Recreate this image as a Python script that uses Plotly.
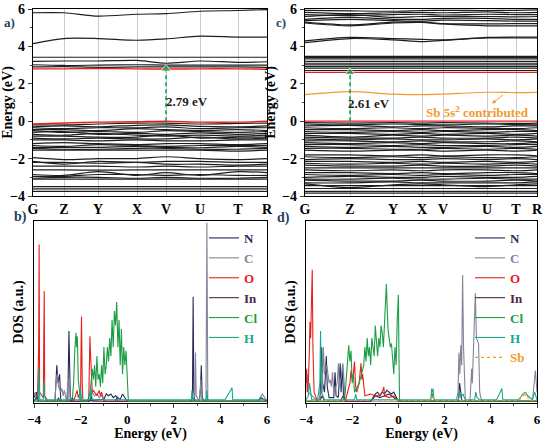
import plotly.graph_objects as go

W, H = 548, 442
FONT = "Liberation Serif, Times New Roman, serif"

# ---------------- band structure (a) ----------------
klabels_a = ["G", "Z", "Y", "X", "V", "U", "T", "R"]
kpath_a = [0, 0.31, 0.65, 1.04, 1.33, 1.67, 2.05, 2.34]
cond_a = [
    [5.8, 5.8, 5.62, 5.72, 5.75, 5.88, 5.92, 5.97],
    [4.15, 4.42, 4.42, 4.33, 4.4, 4.55, 4.5, 4.5],
    [3.42, 3.42, 3.42, 3.42, 3.42, 3.42, 3.42, 3.42],
    [3.2, 3.22, 3.22, 3.25, 3.1, 3.22, 3.15, 3.18],
    [3.02, 2.98, 3.0, 3.02, 3.0, 3.0, 3.0, 3.0],
    [2.9, 2.92, 2.88, 2.9, 2.9, 2.9, 2.9, 2.88],
]
cbm_a = [2.8, 2.8, 2.82, 2.8, 2.79, 2.8, 2.8, 2.78]
vbm_a = [-0.15, -0.1, -0.05, -0.03, 0.0, -0.05, -0.05, 0.0]
val_a = [
    [-0.2, -0.2, -0.15, -0.1, -0.1, -0.15, -0.12, -0.1],
    [-0.3, -0.25, -0.3, -0.22, -0.2, -0.28, -0.3, -0.25],
    [-0.35, -0.4, -0.35, -0.35, -0.3, -0.4, -0.35, -0.35],
    [-0.45, -0.45, -0.5, -0.4, -0.45, -0.5, -0.45, -0.5],
    [-0.5, -0.6, -0.55, -0.6, -0.5, -0.55, -0.6, -0.55],
    [-0.6, -0.55, -0.7, -0.65, -0.7, -0.62, -0.7, -0.65],
    [-0.7, -0.75, -0.65, -0.75, -0.8, -0.75, -0.8, -0.75],
    [-0.8, -0.8, -0.85, -0.85, -0.75, -0.9, -0.85, -0.85],
    [-0.9, -0.95, -0.9, -0.95, -0.95, -0.85, -0.95, -0.9],
    [-1.0, -1.0, -1.05, -1.0, -1.05, -1.05, -1.0, -1.0],
    [-1.2, -1.15, -1.2, -1.25, -1.2, -1.2, -1.25, -1.2],
    [-1.3, -1.35, -1.25, -1.3, -1.35, -1.3, -1.3, -1.3],
    [-1.4, -1.4, -1.4, -1.35, -1.4, -1.42, -1.35, -1.4],
    [-1.45, -1.5, -1.5, -1.45, -1.45, -1.5, -1.5, -1.45],
    [-1.55, -1.55, -1.55, -1.55, -1.55, -1.55, -1.6, -1.55],
    [-1.95, -2.05, -2.0, -2.0, -1.9, -2.0, -2.05, -2.0],
    [-2.15, -2.3, -2.15, -2.2, -2.15, -2.15, -2.2, -2.2],
    [-2.2, -2.2, -2.25, -2.2, -2.3, -2.3, -2.35, -2.3],
    [-2.4, -2.4, -2.4, -2.45, -2.4, -2.45, -2.4, -2.4],
    [-2.6, -2.6, -2.62, -2.6, -2.6, -2.6, -2.6, -2.6],
    [-2.85, -2.9, -2.7, -2.9, -2.75, -2.9, -2.7, -2.75],
    [-2.95, -2.95, -2.85, -2.85, -2.9, -2.85, -2.9, -2.9],
    [-3.05, -3.0, -3.0, -3.05, -3.0, -3.05, -3.05, -3.0],
    [-3.1, -3.1, -3.1, -3.1, -3.1, -3.1, -3.1, -3.1],
    [-3.5, -3.5, -3.5, -3.5, -3.5, -3.5, -3.5, -3.5],
    [-3.62, -3.62, -3.62, -3.62, -3.62, -3.62, -3.62, -3.62],
    [-3.75, -3.75, -3.75, -3.75, -3.75, -3.75, -3.75, -3.75],
]
gap_a = [0.0, 2.79]

# ---------------- band structure (c) ----------------
klabels_c = ["G", "Z", "Y", "X", "V", "U", "T", "R"]
kpath_c = [0, 0.45, 0.88, 1.17, 1.38, 1.82, 2.11, 2.32]
cond_c = [
    [5.93, 5.9, 5.88, 5.92, 5.93, 5.92, 5.93, 5.95],
    [5.82, 5.75, 5.8, 5.82, 5.8, 5.85, 5.8, 5.82],
    [5.7, 5.65, 5.7, 5.72, 5.68, 5.72, 5.7, 5.7],
    [5.6, 5.7, 5.55, 5.6, 5.6, 5.6, 5.58, 5.6],
    [5.45, 5.55, 5.45, 5.45, 5.5, 5.5, 5.45, 5.45],
    [5.38, 5.45, 5.38, 5.35, 5.4, 5.38, 5.35, 5.35],
    [5.3, 5.15, 5.3, 5.3, 5.22, 5.2, 5.22, 5.22],
    [5.25, 5.1, 5.25, 5.28, 5.2, 5.1, 5.1, 5.1],
    [4.3, 4.48, 4.42, 4.38, 4.35, 4.48, 4.5, 4.5],
    [4.2, 4.42, 4.35, 4.25, 4.32, 4.45, 4.45, 4.45],
    [3.47, 3.47, 3.47, 3.47, 3.47, 3.47, 3.47, 3.47],
    [3.41, 3.41, 3.41, 3.41, 3.41, 3.41, 3.41, 3.41],
    [3.33, 3.33, 3.33, 3.33, 3.33, 3.33, 3.33, 3.33],
    [3.2, 3.2, 3.2, 3.2, 3.2, 3.2, 3.2, 3.2],
    [3.1, 3.1, 3.1, 3.1, 3.1, 3.1, 3.1, 3.1],
    [3.02, 3.02, 3.02, 3.02, 3.02, 3.02, 3.02, 3.02],
    [2.93, 2.93, 2.93, 2.93, 2.93, 2.93, 2.93, 2.93],
    [2.84, 2.84, 2.84, 2.84, 2.84, 2.84, 2.84, 2.84],
    [2.71, 2.71, 2.71, 2.71, 2.71, 2.71, 2.71, 2.71],
]
cbm_c = [2.61, 2.61, 2.61, 2.61, 2.61, 2.61, 2.61, 2.61]
vbm_c = [0.0, 0.0, 0.0, 0.0, 0.0, 0.0, 0.0, 0.0]
sb_band_c = [1.42, 1.58, 1.45, 1.42, 1.45, 1.55, 1.53, 1.54]
val_c = [
    [-0.08, -0.1, -0.08, -0.1, -0.08, -0.1, -0.12, -0.1],
    [-0.15, -0.2, -0.15, -0.18, -0.2, -0.15, -0.18, -0.2],
    [-0.25, -0.22, -0.3, -0.25, -0.25, -0.3, -0.25, -0.25],
    [-0.35, -0.4, -0.35, -0.4, -0.35, -0.38, -0.4, -0.35],
    [-0.45, -0.45, -0.5, -0.45, -0.5, -0.45, -0.45, -0.5],
    [-0.55, -0.6, -0.55, -0.6, -0.55, -0.6, -0.55, -0.55],
    [-0.65, -0.65, -0.7, -0.65, -0.7, -0.65, -0.7, -0.65],
    [-0.75, -0.85, -0.75, -0.8, -0.75, -0.8, -0.75, -0.8],
    [-0.85, -0.9, -0.9, -0.85, -0.9, -0.9, -0.85, -0.9],
    [-0.95, -1.0, -0.95, -1.0, -1.0, -0.95, -1.0, -0.95],
    [-1.05, -1.05, -1.1, -1.05, -1.1, -1.1, -1.05, -1.1],
    [-1.15, -1.2, -1.15, -1.2, -1.15, -1.2, -1.2, -1.15],
    [-1.25, -1.25, -1.3, -1.25, -1.3, -1.3, -1.25, -1.25],
    [-1.35, -1.4, -1.35, -1.4, -1.4, -1.35, -1.4, -1.35],
    [-1.45, -1.45, -1.5, -1.5, -1.45, -1.5, -1.45, -1.5],
    [-1.55, -1.6, -1.55, -1.55, -1.6, -1.55, -1.6, -1.55],
    [-1.8, -1.8, -1.85, -1.8, -1.85, -1.8, -1.8, -1.85],
    [-1.9, -1.95, -1.9, -1.95, -1.9, -1.95, -1.95, -1.9],
    [-2.05, -2.0, -2.05, -2.05, -2.0, -2.05, -2.0, -2.05],
    [-2.15, -2.15, -2.2, -2.15, -2.2, -2.15, -2.2, -2.15],
    [-2.25, -2.3, -2.25, -2.3, -2.25, -2.3, -2.25, -2.3],
    [-2.35, -2.4, -2.4, -2.35, -2.4, -2.4, -2.35, -2.4],
    [-2.5, -2.5, -2.5, -2.5, -2.5, -2.5, -2.5, -2.5],
    [-2.6, -2.65, -2.6, -2.65, -2.6, -2.6, -2.65, -2.6],
    [-2.75, -2.75, -2.8, -2.75, -2.8, -2.75, -2.75, -2.8],
    [-2.85, -2.9, -2.85, -2.9, -2.85, -2.9, -2.85, -2.85],
    [-3.0, -2.95, -3.0, -3.0, -2.95, -3.0, -3.0, -2.95],
    [-3.1, -3.1, -3.05, -3.1, -3.1, -3.05, -3.1, -3.1],
    [-3.15, -3.2, -3.2, -3.15, -3.2, -3.2, -3.15, -3.2],
    [-3.3, -3.3, -3.25, -3.3, -3.3, -3.3, -3.3, -3.25],
    [-3.35, -3.55, -3.4, -3.35, -3.4, -3.5, -3.4, -3.35],
    [-3.45, -3.45, -3.45, -3.45, -3.45, -3.45, -3.45, -3.45],
    [-3.6, -3.6, -3.6, -3.6, -3.6, -3.6, -3.6, -3.6],
    [-3.75, -3.75, -3.75, -3.75, -3.75, -3.75, -3.75, -3.75],
    [-3.85, -3.85, -3.85, -3.85, -3.85, -3.85, -3.85, -3.85],
]
gap_c = [0.0, 2.61]

# ---------------- DOS (b) ----------------
N_b_E = [-4, -3.9, -3.85, -3.8, -3.1, -3.02, -2.97, -2.9, -2.85, -2.55, -2.5, -2.47, -2.44, -2.0, -1.0, -0.9, -0.8, -0.7, -0.6, -0.5, -0.4, -0.3, -0.2, -0.1, 0, 2.75, 2.8, 2.83, 2.86, 2.9, 3.1, 3.15, 3.18, 3.22, 3.3, 5.6, 5.75, 5.85, 6]
N_b_D = [0.02, 0.05, 0.01, 0, 0, 0.2, 0.1, 0.15, 0, 0, 0.39, 0.05, 0, 0, 0.01, 0.04, 0.03, 0.04, 0.02, 0.03, 0.02, 0.01, 0.04, 0.02, 0, 0, 0.02, 0.58, 0.05, 0, 0, 0.08, 0.2, 0.02, 0, 0, 0.02, 0.01, 0]
C_b_E = [-4, -3.95, -3.9, -3.85, -3.1, -3.05, -3.0, -2.95, -2.85, -2.8, -2.75, -2.7, -2.6, -2.55, -2.5, -2.45, -2.3, -1.6, -1.5, -1.4, -1.3, -1.2, -1.1, -1.0, -0.9, 2.8, 2.9, 2.93, 2.96, 3.1, 3.16, 3.2, 3.25, 3.38, 3.42, 3.46, 5.6, 5.75, 5.8, 5.9, 6]
C_b_D = [0.03, 0.05, 0.01, 0, 0, 0.12, 0.15, 0.08, 0.05, 0.07, 0.03, 0.06, 0, 0.1, 0.12, 0.02, 0, 0, 0.05, 0.03, 0.04, 0.02, 0.03, 0.01, 0, 0, 0.03, 0.27, 0.03, 0, 0.12, 0.02, 0, 0, 0.99, 0, 0, 0.03, 0.04, 0.02, 0]
O_b_E = [-4, -3.85, -3.8, -3.78, -3.76, -3.6, -3.58, -3.56, -3.54, -3.4, -2.3, -2.2, -2.15, -2.1, -2.0, -1.98, -1.96, -1.93, -1.9, -1.65, -1.62, -1.6, -1.57, -1.55, -1.52, -1.5, -1.45, -1.3, -1.2, -1.15, -1.1, -1.0, 6]
O_b_D = [0, 0.02, 0.3, 0.87, 0.05, 0.02, 0.35, 0.61, 0.03, 0, 0, 0.04, 0.06, 0.02, 0.05, 0.3, 0.47, 0.1, 0, 0, 0.2, 0.36, 0.25, 0.2, 0.1, 0.05, 0.06, 0.03, 0.06, 0.03, 0.05, 0, 0]
In_b_E = [-4, -3.9, -3.85, -3.8, -3.0, -2.95, -2.9, -2.4, -2.35, -2.3, -1.6, -1.55, -1.5, -0.5, -0.45, -0.4, 6]
In_b_D = [0, 0.02, 0.03, 0, 0, 0.02, 0, 0, 0.02, 0, 0, 0.03, 0, 0, 0.02, 0, 0]
Cl_b_E = [-4, -2.5, -2.35, -2.3, -2.25, -2.2, -2.17, -2.14, -2.1, -2.05, -2.0, -1.7, -1.6, -1.55, -1.5, -1.45, -1.4, -1.35, -1.3, -1.25, -1.2, -1.15, -1.1, -1.05, -1.0, -0.95, -0.9, -0.85, -0.8, -0.75, -0.7, -0.65, -0.6, -0.55, -0.5, -0.45, -0.4, -0.35, -0.3, -0.25, -0.2, -0.15, -0.1, -0.05, 0.0, 0.05, 6]
Cl_b_D = [0, 0, 0.02, 0.1, 0.28, 0.38, 0.3, 0.36, 0.12, 0.05, 0, 0, 0.05, 0.1, 0.18, 0.12, 0.2, 0.08, 0.25, 0.12, 0.15, 0.08, 0.2, 0.1, 0.3, 0.15, 0.2, 0.3, 0.22, 0.35, 0.25, 0.45, 0.3, 0.5, 0.42, 0.55, 0.3, 0.45, 0.2, 0.4, 0.15, 0.3, 0.2, 0.28, 0.1, 0, 0]
H_b_E = [-4, -3.82, -3.8, -3.78, -3.75, -3.6, -3.57, -3.55, -3.5, -2.05, -2.0, -1.95, -1.6, -1.55, -1.5, 2.75, 2.78, 2.82, 3.4, 3.42, 3.45, 4.2, 4.4, 4.5, 4.53, 6]
H_b_D = [0.008, 0.008, 0.18, 0.1, 0.008, 0.008, 0.11, 0.03, 0.008, 0.008, 0.06, 0.008, 0.008, 0.07, 0.008, 0.008, 0.06, 0.008, 0.008, 0.06, 0.008, 0.008, 0.05, 0.075, 0.008, 0.008]

# ---------------- DOS (d) ----------------
N_d_E = [-4, -3.4, -3.32, -3.28, -3.2, -3.12, -3.08, -3.0, -2.8, -2.74, -2.7, -2.6, -2.52, -2.48, -2.42, -2.38, -2.3, -1.2, -1.0, -0.9, -0.8, -0.7, -0.6, -0.5, -0.4, -0.3, -0.2, -0.1, 0, 2.6, 2.65, 2.7, 2.75, 6]
N_d_D = [0, 0, 0.3, 0.1, 0.05, 0.25, 0.08, 0.02, 0.02, 0.16, 0.03, 0.02, 0.21, 0.05, 0.2, 0.04, 0, 0, 0.04, 0.05, 0.03, 0.05, 0.04, 0.06, 0.05, 0.04, 0.05, 0.02, 0, 0, 0.1, 0.05, 0, 0]
C_d_E = [-4, -3.95, -3.9, -3.5, -3.3, -3.25, -3.2, -3.1, -3.0, -2.95, -2.9, -2.85, -2.8, -2.65, -2.6, -2.55, -2.45, -2.4, -2.3, 2.5, 2.58, 2.62, 2.66, 2.7, 2.74, 2.78, 2.82, 2.9, 3.1, 3.17, 3.2, 3.25, 3.3, 3.33, 3.38, 3.44, 3.47, 3.52, 3.6, 5.8, 5.88, 5.93, 6]
C_d_D = [0.1, 0.15, 0.05, 0, 0.05, 0.3, 0.15, 0.2, 0.1, 0.12, 0.08, 0.16, 0.05, 0.1, 0.21, 0.08, 0.15, 0.21, 0, 0, 0.05, 0.27, 0.15, 0.31, 0.2, 0.7, 0.3, 0, 0, 0.18, 0.1, 0.3, 0.5, 0.6, 0.35, 0.33, 0.32, 0.05, 0, 0, 0.1, 0.17, 0.05]
O_d_E = [-4, -3.97, -3.95, -3.9, -3.85, -3.83, -3.8, -3.75, -3.73, -3.7, -3.65, -3.5, -2.3, -2.2, -2.1, -2.05, -2.0, -1.95, -1.9, -1.85, -1.8, -1.7, -1.65, -1.62, -1.58, -1.55, -1.45, -1.2, -1.0, -0.8, -0.67, -0.63, -0.6, -0.4, -0.2, 0, 6]
O_d_D = [0.1, 0.18, 0.05, 0.1, 0.3, 0.44, 0.35, 0.6, 0.73, 0.3, 0.05, 0, 0, 0.05, 0.1, 0.17, 0.12, 0.15, 0.22, 0.08, 0.05, 0.1, 0.17, 0.21, 0.12, 0.15, 0.03, 0.04, 0.03, 0.03, 0.06, 0.08, 0.03, 0.02, 0.03, 0, 0]
In_d_E = [-4, -3.4, -3.3, -3.2, -2.5, -2.4, -2.3, -1.2, -1.0, -0.8, -0.6, -0.4, -0.2, 0, 6]
In_d_D = [0, 0, 0.03, 0, 0, 0.03, 0, 0, 0.03, 0.02, 0.03, 0.04, 0.02, 0, 0]
Cl_d_E = [-4, -2.4, -2.3, -2.25, -2.2, -2.15, -2.1, -2.05, -2.0, -1.95, -1.9, -1.8, -1.7, -1.6, -1.5, -1.45, -1.4, -1.35, -1.3, -1.25, -1.2, -1.15, -1.1, -1.05, -1.0, -0.95, -0.9, -0.85, -0.8, -0.75, -0.7, -0.65, -0.6, -0.55, -0.52, -0.48, -0.45, -0.4, -0.35, -0.3, -0.25, -0.2, -0.15, -0.1, -0.05, 0.0, 0.02, 0.05, 6]
Cl_d_D = [0, 0, 0.05, 0.15, 0.25, 0.31, 0.22, 0.28, 0.1, 0.15, 0.05, 0.08, 0.1, 0.15, 0.2, 0.3, 0.22, 0.35, 0.25, 0.3, 0.2, 0.35, 0.28, 0.25, 0.42, 0.3, 0.25, 0.35, 0.3, 0.42, 0.38, 0.3, 0.45, 0.55, 0.65, 0.5, 0.4, 0.35, 0.3, 0.32, 0.25, 0.15, 0.3, 0.2, 0.45, 0.59, 0.3, 0, 0]
H_d_E = [-4, -3.9, -3.85, -3.8, -3.75, -3.5, -3.4, -3.37, -3.33, -3.2, -1.9, -1.85, -1.8, 1.4, 1.44, 1.47, 1.5, 1.53, 1.56, 2.6, 2.65, 2.7, 2.8, 2.85, 2.9, 3.3, 3.35, 3.4, 3.5, 4.25, 4.4, 4.48, 4.52, 5.2, 5.4, 5.5, 5.6, 5.8, 5.9, 6]
H_d_D = [0.008, 0.03, 0.1, 0.06, 0.008, 0.008, 0.1, 0.39, 0.05, 0.008, 0.008, 0.04, 0.008, 0.008, 0.07, 0.02, 0.07, 0.02, 0.008, 0.008, 0.05, 0.02, 0.04, 0.02, 0.008, 0.008, 0.05, 0.02, 0.008, 0.008, 0.05, 0.07, 0.008, 0.008, 0.04, 0.05, 0.03, 0.008, 0.05, 0.008]
Sb_d_E = [-4, 1.42, 1.47, 1.52, 5.25, 5.35, 5.4, 5.45, 5.5, 5.55, 5.65, 6]
Sb_d_D = [0.005, 0.005, 0.05, 0.005, 0.005, 0.04, 0.02, 0.05, 0.03, 0.04, 0.005, 0.005]

elements = ["N", "C", "O", "In", "Cl", "H", "Sb"]
colors = {"N": "#27295a", "C": "#85859a", "O": "#e8201c", "In": "#4d2747",
          "Cl": "#1c9e46", "H": "#17a98a", "Sb": "#f39a2e"}

BAND = "#1e1e1e"
RED = "#e8201c"
GREEN = "#1aa34a"
ORANGE = "#f39a2e"

fig = go.Figure()


def add_band(k, e, xa, ya, color=BAND, width=1.0):
    fig.add_trace(go.Scatter(x=k, y=e, mode="lines", xaxis=xa, yaxis=ya,
                             line=dict(color=color, width=width, shape="spline", smoothing=0.8),
                             showlegend=False, hoverinfo="skip"))


for b in cond_a + val_a:
    add_band(kpath_a, b, "x", "y", BAND, 1.2)
add_band(kpath_a, cbm_a, "x", "y", RED, 1.4)
add_band(kpath_a, vbm_a, "x", "y", RED, 1.4)
fig.add_trace(go.Scatter(x=[kpath_a[4], kpath_a[4]], y=gap_a, mode="lines+markers",
                         xaxis="x", yaxis="y",
                         line=dict(color=GREEN, width=1.6, dash="4px,3px"),
                         marker=dict(symbol="triangle-up", size=[0, 9], color=GREEN),
                         showlegend=False, hoverinfo="skip"))

for b in cond_c + val_c:
    add_band(kpath_c, b, "x2", "y2", BAND, 1.2)
add_band(kpath_c, cbm_c, "x2", "y2", RED, 1.2)
add_band(kpath_c, vbm_c, "x2", "y2", RED, 1.2)
add_band(kpath_c, sb_band_c, "x2", "y2", ORANGE, 1.1)
fig.add_trace(go.Scatter(x=[kpath_c[1], kpath_c[1]], y=gap_c, mode="lines+markers",
                         xaxis="x2", yaxis="y2",
                         line=dict(color=GREEN, width=1.6, dash="4px,3px"),
                         marker=dict(symbol="triangle-up", size=[0, 9], color=GREEN),
                         showlegend=False, hoverinfo="skip"))

dos_b = {"N": (N_b_E, N_b_D), "C": (C_b_E, C_b_D), "O": (O_b_E, O_b_D), "In": (In_b_E, In_b_D),
         "Cl": (Cl_b_E, Cl_b_D), "H": (H_b_E, H_b_D)}
dos_d = {"N": (N_d_E, N_d_D), "C": (C_d_E, C_d_D), "O": (O_d_E, O_d_D), "In": (In_d_E, In_d_D),
         "Cl": (Cl_d_E, Cl_d_D), "H": (H_d_E, H_d_D), "Sb": (Sb_d_E, Sb_d_D)}

for el in elements:
    if el in dos_b:
        E, D = dos_b[el]
        fig.add_trace(go.Scatter(x=E, y=D, mode="lines", xaxis="x3", yaxis="y3",
                                 line=dict(color=colors[el], width=1.1),
                                 name=f'<span style="color:{colors[el]}">{el}</span>',
                                 legend="legend", hoverinfo="skip"))
for el in elements:
    E, D = dos_d[el]
    fig.add_trace(go.Scatter(x=E, y=D, mode="lines", xaxis="x4", yaxis="y4",
                             line=dict(color=colors[el], width=1.1,
                                       dash="dot" if el == "Sb" else "solid"),
                             name=f'<span style="color:{colors[el]}">{el}</span>',
                             legend="legend2", hoverinfo="skip"))

tickf = dict(family=FONT, size=14, color="black", weight="bold")
dostickf = dict(family=FONT, size=13, color="black", weight="bold")
titlef = dict(family=FONT, size=14, color="black", weight="bold")


def px(x):
    return x / W


def py(y):
    return 1 - y / H


band_x = dict(showgrid=True, gridcolor="#c6cbd6", gridwidth=1, showline=True, mirror=True,
              linecolor="black", linewidth=1.2, ticks="", tickfont=tickf, zeroline=False,
              automargin=False)
band_y = dict(range=[-4, 6], dtick=2, showgrid=False, showline=True, mirror=True,
              linecolor="black", linewidth=1.2, ticks="outside", ticklen=4, tickwidth=1.2,
              minor=dict(dtick=1, ticklen=2, ticks="outside"), tickfont=tickf, zeroline=False,
              title=dict(text="Energy (eV)", font=titlef, standoff=3), automargin=False)
dos_x = dict(range=[-4, 6], dtick=2, showgrid=False, showline=True, mirror=True,
             linecolor="black", linewidth=1.2, ticks="outside", ticklen=4, tickwidth=1.2,
             minor=dict(dtick=1, ticklen=2, ticks="outside"), tickfont=dostickf, zeroline=False,
             title=dict(text="Energy (eV)", font=titlef, standoff=1), automargin=False)
dos_y = dict(range=[-0.01, 1.0], showgrid=False, showline=True, mirror=True,
             linecolor="black", linewidth=1.2, ticks="", showticklabels=False, zeroline=False,
             title=dict(text="DOS (a.u.)", font=titlef, standoff=6), automargin=False)

fig.update_layout(
    width=W, height=H, margin=dict(l=0, r=0, t=0, b=0, autoexpand=False),
    paper_bgcolor="white", plot_bgcolor="white",
    xaxis=dict(band_x, domain=[px(33), px(267)], range=[kpath_a[0], kpath_a[-1]],
               tickvals=kpath_a, ticktext=klabels_a, anchor="y"),
    yaxis=dict(band_y, domain=[py(196), py(9)], anchor="x"),
    xaxis2=dict(band_x, domain=[px(305), px(537)], range=[kpath_c[0], kpath_c[-1]],
                tickvals=kpath_c, ticktext=klabels_c, anchor="y2"),
    yaxis2=dict(band_y, domain=[py(196), py(9)], anchor="x2"),
    xaxis3=dict(dos_x, domain=[px(34), px(267)], anchor="y3"),
    yaxis3=dict(dos_y, domain=[py(403), py(221)], anchor="x3"),
    xaxis4=dict(dos_x, domain=[px(306), px(537)], anchor="y4"),
    yaxis4=dict(dos_y, domain=[py(403), py(221)], anchor="x4"),
    legend=dict(x=px(204), y=py(223), xanchor="left", yanchor="top", bgcolor="rgba(0,0,0,0)",
                font=dict(family=FONT, size=13, weight="bold"), tracegroupgap=0, itemwidth=30),
    legend2=dict(x=px(470), y=py(223), xanchor="left", yanchor="top", bgcolor="rgba(0,0,0,0)",
                 font=dict(family=FONT, size=13, weight="bold"), tracegroupgap=0, itemwidth=30),
    font=dict(family=FONT),
)

ann = [
    dict(text="a)", x=px(2), y=py(13), xref="paper", yref="paper", showarrow=False,
         xanchor="left", font=dict(family=FONT, size=13, weight="bold")),
    dict(text="c)", x=px(274), y=py(13), xref="paper", yref="paper", showarrow=False,
         xanchor="left", font=dict(family=FONT, size=13, weight="bold")),
    dict(text="b)", x=px(12), y=py(217), xref="paper", yref="paper", showarrow=False,
         font=dict(family=FONT, size=14, weight="bold")),
    dict(text="d)", x=px(283), y=py(218), xref="paper", yref="paper", showarrow=False,
         font=dict(family=FONT, size=14, weight="bold")),
    dict(text="2.79 eV", x=1.54, y=1.04, xref="x", yref="y", showarrow=False,
         font=dict(family=FONT, size=13, weight="bold", color="#222")),
    dict(text="2.61 eV", x=0.64, y=0.97, xref="x2", yref="y2", showarrow=False,
         font=dict(family=FONT, size=13, weight="bold", color="#222")),
    dict(text="Sb 5s<sup>2</sup> contributed", x=1.72, y=0.5, xref="x2", yref="y2",
         showarrow=False, font=dict(family=FONT, size=13, weight="bold", color=ORANGE)),
    dict(text=" ", x=1.87, y=0.94, xref="x2", yref="y2", ax=2.01, ay=1.53,
         axref="x2", ayref="y2", showarrow=True, arrowhead=2, arrowsize=0.8,
         arrowwidth=1, arrowcolor=ORANGE),
]
fig.update_layout(annotations=ann)

fig.write_html("out.html", config={"displayModeBar": False},
               post_script="document.body.style.margin='0';document.body.style.overflow='hidden';")
